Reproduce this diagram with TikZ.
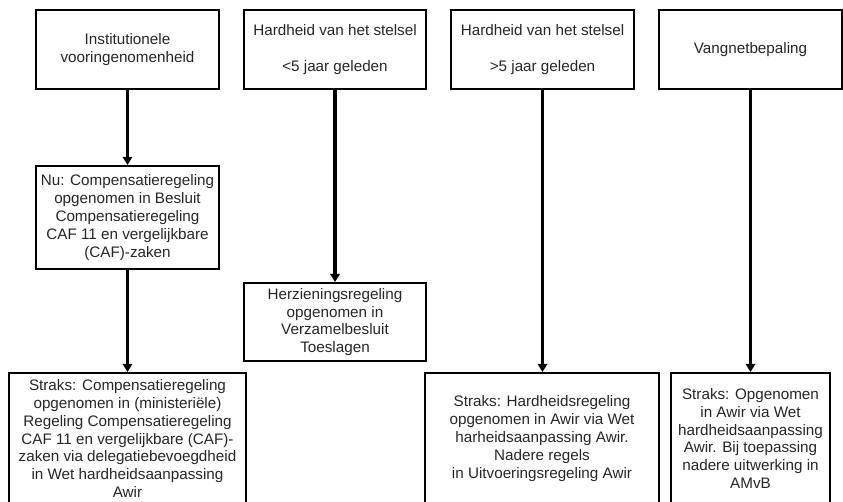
\documentclass[tikz,border=0pt]{standalone}
\usepackage{fontspec}
\setmainfont{Liberation Sans}
\usetikzlibrary{positioning,arrows.meta}

\begin{document}
\begin{tikzpicture}[
    x=0.03cm, y=-0.03cm,
    box/.style={draw, rectangle, line width=1.6pt, align=center, inner sep=2pt, text=black!85,
        font=\fontsize{13pt}{15.2pt}\selectfont},
    top/.style={box, minimum width=5.49cm, minimum height=2.37cm},
    arrow/.style={-{Triangle[length=7pt,width=8pt]}, line width=2.6pt}
]

\clip (0,0) rectangle (843,501);

% Top row
\node[top] (inst) at (127.5,49.5) {Institutionele\\vooringenomenheid};
\node[top, minimum width=5.46cm] (hard_kort) at (335,49.5) {Hardheid van het stelsel\\[15pt]<5 jaar geleden};
\node[top] (hard_lang) at (542.5,49.5) {Hardheid van het stelsel\\[15pt]>5 jaar geleden};
\node[top] (vangnet) at (750.5,49.5) {Vangnetbepaling};

% Middle
\node[box, minimum width=5.49cm, minimum height=3.09cm] (nu) at (127.5,217.5) {Nu: Compensatieregeling\\opgenomen in Besluit\\Compensatieregeling\\CAF 11 en vergelijkbare\\(CAF)-zaken};
\node[box, minimum width=5.46cm, minimum height=2.34cm] (herziening) at (335,322) {Herzieningsregeling\\opgenomen in\\Verzamelbesluit\\Toeslagen};

% Bottom row
\node[box, minimum width=7.11cm, minimum height=3.93cm] (straks_caf) at (127.5,438.5) {Straks: Compensatieregeling\\opgenomen in (ministeriële)\\Regeling Compensatieregeling\\CAF 11 en vergelijkbare (CAF)-\\zaken via delegatiebevoegdheid\\in Wet hardheidsaanpassing\\Awir};
\node[box, minimum width=7.02cm, minimum height=3.93cm] (straks_hard) at (542,438.5) {Straks: Hardheidsregeling\\opgenomen in Awir via Wet\\harheidsaanpassing Awir.\\Nadere regels\\in Uitvoeringsregeling Awir};
\node[box, minimum width=4.77cm, minimum height=3.93cm, inner sep=1pt] (straks_vang) at (750.5,438.5) {Straks: Opgenomen\\in Awir via Wet\\hardheidsaanpassing\\Awir. Bij toepassing\\nadere uitwerking in\\AMvB};

% Connections
\draw[arrow] (inst) -- (nu);
\draw[arrow] (nu) -- (straks_caf);
\draw[arrow] (hard_kort) -- (herziening);
\draw[arrow] (hard_lang.south) -- (hard_lang.south |- straks_hard.north);
\draw[arrow] (vangnet) -- (straks_vang);

\end{tikzpicture}
\end{document}
